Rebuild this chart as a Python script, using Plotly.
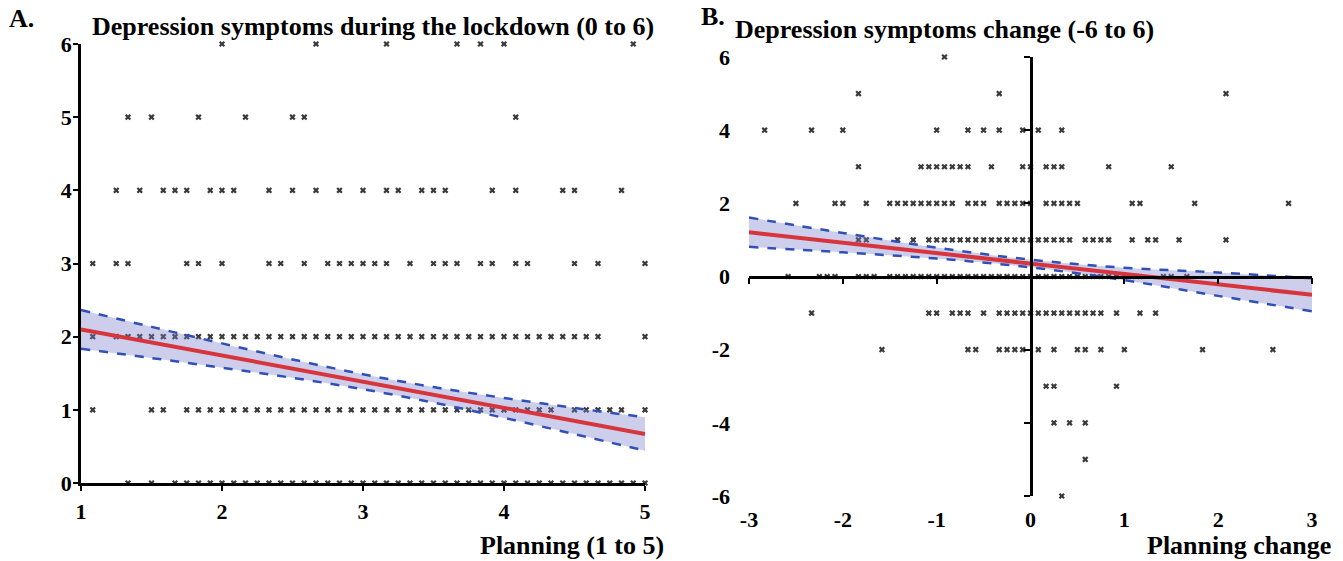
import plotly.graph_objects as go

W, H = 1343, 561

# ---------------- Panel A data (x in twelfths above 1: x = 1 + k/12) ----------------
a_y6 = [12, 20, 26, 32, 34, 36, 47]
a_y5 = [4, 6, 10, 14, 18, 19, 37]
a_y4 = [3, 5, 7, 8, 9, 11, 12, 13, 16, 18, 20, 22, 24, 26, 27, 29, 30, 31, 35, 37, 41, 42, 46]
a_y3 = [1, 3, 4, 9, 10, 12, 16, 17, 19, 21, 22, 23, 24, 25, 26, 28, 30, 31, 32, 34, 35, 37, 38, 42, 44, 48]
a_y2 = [1, 3, 4, 5, 6, 7, 8, 9, 10, 11, 12, 13, 14, 15, 16, 17, 18, 19, 20, 21, 22, 23, 24, 25, 26,
        27, 28, 29, 30, 31, 32, 33, 34, 35, 36, 37, 38, 39, 40, 41, 42, 43, 44, 48]
a_y1 = [1, 6, 7, 9, 10, 11, 12, 13, 14, 15, 16, 17, 18, 19, 20, 21, 22, 23, 24, 25, 26, 27, 28, 29,
        30, 31, 32, 33, 34, 35, 36, 37, 38, 39, 40, 42, 43, 44, 45, 46, 48]
a_y0 = [4, 6, 8, 9, 10, 11, 12, 13, 14, 15, 16, 17, 18, 19, 20, 21, 22, 23, 24, 25, 26, 27, 28, 29,
        30, 31, 32, 33, 34, 35, 36, 37, 38, 39, 40, 41, 42, 43, 44, 45, 46, 47, 48]
a_rows = [(6, a_y6), (5, a_y5), (4, a_y4), (3, a_y3), (2, a_y2), (1, a_y1), (0, a_y0)]

a_fit_x = [1, 5]
a_fit_y = [2.10, 0.67]
a_ci_x = [1, 1.5, 2, 2.5, 3, 3.5, 4, 4.5, 5]
a_ci_up = [2.364, 2.134, 1.908, 1.689, 1.486, 1.311, 1.162, 1.026, 0.898]
a_ci_lo = [1.836, 1.708, 1.576, 1.437, 1.282, 1.099, 0.890, 0.668, 0.442]

# ---------------- Panel B data (x in twelfths: x = k/12) ----------------
b_y6 = [-11]
b_y5 = [-22, -4, 25]
b_y4 = [-34, -28, -24, -12, -8, -6, -4, -1, 1, 4]
b_y3 = [-22, -14, -13, -12, -11, -10, -9, -8, -5, -1, 0, 2, 3, 4, 10, 18]
b_y2 = [-30, -25, -24, -21, -18, -17, -16, -15, -14, -13, -12, -11, -10, -8, -7, -6, -4, -3, -2, -1,
        0, 2, 3, 4, 5, 6, 13, 14, 21, 33]
b_y1 = [-22, -21, -17, -15, -13, -12, -11, -10, -9, -8, -7, -6, -5, -4, -3, -2, -1, 0, 1, 2, 3, 4, 5,
        7, 8, 9, 10, 13, 15, 16, 19, 25]
b_y0 = [-31, -27, -26, -25, -22, -21, -20, -18, -17, -16, -15, -14, -13, -12, -11, -10, -9, -8, -7,
        -6, -5, -4, -3, -2, -1, 0, 1, 2, 3, 4, 5, 6, 7, 8, 9, 10, 11, 12, 13, 14, 17, 18, 20]
b_ym1 = [-28, -13, -12, -10, -9, -8, -6, -4, -3, -2, -1, 0, 1, 2, 3, 4, 5, 6, 7, 8, 9, 11, 14, 16]
b_ym2 = [-19, -8, -7, -4, -3, -2, -1, 1, 3, 6, 7, 9, 12, 22, 31]
b_ym3 = [2, 3, 11]
b_ym4 = [3, 5, 7]
b_ym5 = [7]
b_ym6 = [4]
b_rows = [(6, b_y6), (5, b_y5), (4, b_y4), (3, b_y3), (2, b_y2), (1, b_y1), (0, b_y0),
          (-1, b_ym1), (-2, b_ym2), (-3, b_ym3), (-4, b_ym4), (-5, b_ym5), (-6, b_ym6)]

b_fit_x = [-3, 3]
b_fit_y = [1.21, -0.50]
b_ci_x = [-3, -2, -1, 0, 1, 2, 3]
b_ci_up = [1.61, 1.19, 0.79, 0.46, 0.24, 0.11, -0.05]
b_ci_lo = [0.81, 0.66, 0.49, 0.25, -0.10, -0.53, -0.95]

a_xticks = [1, 2, 3, 4, 5]
a_yticks = [0, 1, 2, 3, 4, 5, 6]
b_xticks = [-3, -2, -1, 0, 1, 2, 3]
b_xlabels = ["-3", "-2", "-1", "0", "1", "2", "3"]
b_yticks = [-6, -4, -2, 0, 2, 4, 6]
b_ylabels = ["-6", "-4", "-2", "0", "2", "4", "6"]

# ---------------- styles ----------------
FONT = "Liberation Serif"
MK = dict(symbol="x", size=5.5, color="#3a3a3a", line=dict(width=0))
RED = "#d8343c"
BLUE = "#3050b8"
FILL = "rgba(120,125,205,0.38)"
tickfont = dict(family=FONT, size=22, color="black", weight="bold")

fig = go.Figure()


def add_panel(rows, xconv, fitx, fity, cix, ciup, cilo, xa, ya):
    xs, ys = [], []
    for yv, ks in rows:
        for k in ks:
            xs.append(xconv(k))
            ys.append(yv)
    fig.add_trace(go.Scatter(x=xs, y=ys, mode="markers", marker=MK, cliponaxis=False,
                             xaxis=xa, yaxis=ya, hoverinfo="skip"))
    fig.add_trace(go.Scatter(x=cix, y=cilo, mode="lines", line=dict(color=BLUE, width=2.5, dash="dash", shape="spline"),
                             xaxis=xa, yaxis=ya, hoverinfo="skip"))
    fig.add_trace(go.Scatter(x=cix, y=ciup, mode="lines", line=dict(color=BLUE, width=2.5, dash="dash", shape="spline"),
                             fill="tonexty", fillcolor=FILL, xaxis=xa, yaxis=ya, hoverinfo="skip"))
    fig.add_trace(go.Scatter(x=fitx, y=fity, mode="lines", line=dict(color=RED, width=4),
                             xaxis=xa, yaxis=ya, hoverinfo="skip"))


add_panel(a_rows, lambda k: 1 + k / 12.0, a_fit_x, a_fit_y, a_ci_x, a_ci_up, a_ci_lo, "x", "y")
add_panel(b_rows, lambda k: k / 12.0, b_fit_x, b_fit_y, b_ci_x, b_ci_up, b_ci_lo, "x2", "y2")

# invisible anchors for the crossing axes of panel B
fig.add_trace(go.Scatter(x=[0], y=[0], mode="markers", marker=dict(opacity=0), xaxis="x3", yaxis="y2", hoverinfo="skip"))
fig.add_trace(go.Scatter(x=[0], y=[0], mode="markers", marker=dict(opacity=0), xaxis="x2", yaxis="y3", hoverinfo="skip"))

axA_x = [81 / W, 645 / W]
axA_y = [1 - 483 / H, 1 - 44 / H]
axB_x = [749 / W, 1312 / W]
axB_y = [1 - 496 / H, 1 - 57 / H]

common_line = dict(showline=True, linecolor="black", linewidth=2.5, ticks="outside", ticklen=5,
                   tickwidth=2, tickcolor="black", showgrid=False, zeroline=False, tickfont=tickfont,
                   automargin=False)

fig.update_layout(
    width=W, height=H, margin=dict(l=0, r=0, t=0, b=0, pad=0, autoexpand=False),
    paper_bgcolor="white", plot_bgcolor="rgba(0,0,0,0)", showlegend=False,
    xaxis=dict(domain=axA_x, range=[1, 5], tickmode="array", tickvals=a_xticks, anchor="y",
               ticklabelstandoff=2, **common_line),
    yaxis=dict(domain=axA_y, range=[0, 6], tickmode="array", tickvals=a_yticks, anchor="x",
               ticklabelstandoff=-3, **common_line),
    xaxis2=dict(domain=axB_x, range=[-3, 3], tickmode="array", tickvals=b_xticks, ticktext=b_xlabels,
                anchor="y2", showline=False, ticks="", showgrid=False, zeroline=False, tickfont=tickfont,
                ticklabelstandoff=8, automargin=False),
    yaxis2=dict(domain=axB_y, range=[-6, 6], tickmode="array", tickvals=b_yticks, ticktext=b_ylabels,
                anchor="x2", showline=False, ticks="", showgrid=False, zeroline=False, tickfont=tickfont,
                ticklabelstandoff=18, automargin=False),
    xaxis3=dict(overlaying="x2", anchor="free", position=(axB_y[0] + axB_y[1]) / 2, range=[-3, 3],
                tickmode="array", tickvals=b_xticks, showticklabels=False, showline=True, linecolor="black",
                linewidth=2.5, ticks="outside", ticklen=6, tickwidth=2, tickcolor="black",
                showgrid=False, zeroline=False, automargin=False),
    yaxis3=dict(overlaying="y2", anchor="free", position=(axB_x[0] + axB_x[1]) / 2, range=[-6, 6], side="left",
                tickmode="array", tickvals=b_yticks, showticklabels=False, showline=True, linecolor="black",
                linewidth=2.5, ticks="outside", ticklen=6, tickwidth=2, tickcolor="black",
                showgrid=False, zeroline=False, automargin=False),
)

tfont = dict(family=FONT, size=26, color="black", weight="bold")
annots = [
    dict(text="A.", x=8 / W, y=1 - 18 / H, xanchor="left"),
    dict(text="Depression symptoms during the lockdown (0 to 6)", x=373 / W, y=1 - 27 / H, xanchor="center"),
    dict(text="B.", x=700 / W, y=1 - 17 / H, xanchor="left"),
    dict(text="Depression symptoms change (-6 to 6)", x=944 / W, y=1 - 30 / H, xanchor="center"),
    dict(text="Planning (1 to 5)", x=665 / W, y=1 - 545 / H, xanchor="right"),
    dict(text="Planning change", x=1332 / W, y=1 - 545 / H, xanchor="right"),
]
for a in annots:
    fig.add_annotation(xref="paper", yref="paper", yanchor="middle", showarrow=False, font=tfont,
                       borderpad=0, **a)

fig.write_html("out.html")
